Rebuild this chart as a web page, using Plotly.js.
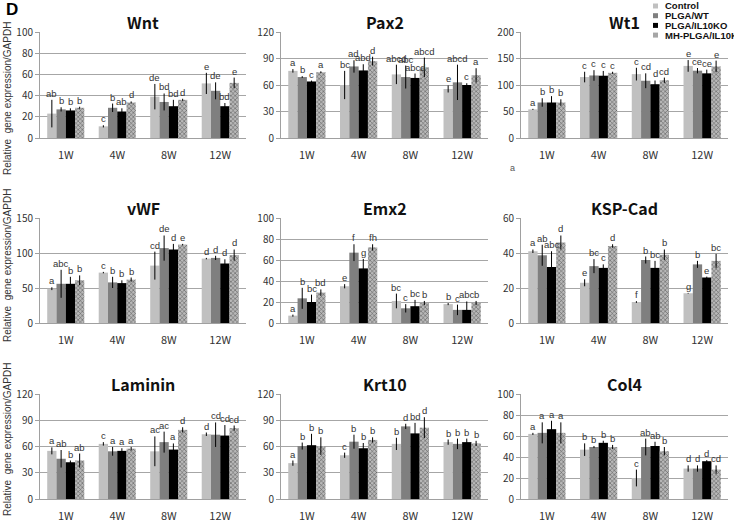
<!DOCTYPE html>
<html><head><meta charset="utf-8">
<script src="https://cdn.plot.ly/plotly-3.0.1.min.js"></script>
<style>html,body{margin:0;padding:0;background:#fff}#chart{width:734px;height:524px}</style>
</head><body><div id="chart"></div>
<script>
const groups = ['Control','PLGA/WT','PLGA/IL10KO','MH-PLGA/IL10KO'];
const weeks = ['1W','4W','8W','12W'];
const genes = ['Wnt','Pax2','Wt1','vWF','Emx2','KSP-Cad','Laminin','Krt10','Col4'];
const yMax = [100,120,200,150,100,60,120,120,100];
const yStep = [20,30,50,50,20,20,30,30,20];

// means [Control, PLGA/WT, PLGA/IL10KO, MH-PLGA/IL10KO] x [1W,4W,8W,12W]
const wntMean = [[23,11,39,51.5],[27,28.5,34,44.5],[26,25,30,30],[28.5,33.5,36,52]];
const wntErr  = [[13,1,12,10],[2,4,8,8],[2,3,6,3],[1,1,1,5]];
const wntSig  = [['ab','c','de','e'],['b','b','bd','de'],['b','ab','bd','bd'],['b','d','d','e']];

const pax2Mean = [[76,60,72,55.5],[69,81,69,63],[64,76.5,68,60],[74.5,87,80,71]];
const pax2Err  = [[2,16,11,4],[1,7,13,20],[1,7,5,2],[1,5,11,8]];
const pax2Sig  = [['a','bc','abcd','e'],['b','ad','abc','abcd'],['c','abd','abcd','c'],['a','d','abcd','a']];

const wt1Mean = [[54,115,120.5,136],[67,118,108,127],[67,117.5,101.5,122],[67,123,109,135]];
const wt1Err  = [[1,10,12,11],[8,10,14,5],[12,9,7,7],[6,2,5,11]];
const wt1Sig  = [['a','c','c','e'],['b','c','cd','ce'],['b','c','d','ce'],['b','c','cd','e']];

const vwfMean = [[49,72,82,92],[56,58,107,93],[56,57,105,85],[61,62,112,97]];
const vwfErr  = [[2,1,20,1],[20,8,18,3],[10,4,8,6],[7,3,1,8]];
const vwfSig  = [['a','c','cd','d'],['abc','b','de','d'],['b','b','d','d'],['b','b','e','d']];

const emx2Mean = [[7,35,21,18],[23.5,67,14,12.5],[20,52,16,12.5],[29,72,19,19]];
const emx2Err  = [[1,2,7,1],[10,8,4,5],[7,9,6,8],[3,3,2,2]];
const emx2Sig  = [['a','e','bc','b'],['b','f','c','c'],['bc','g','bc','abc'],['bd','fh','b','b']];

const kspMean = [[41,23,12,17],[38.7,32.5,36,33.5],[32,31.5,31.5,26],[46,44,39,35.5]];
const kspErr  = [[1,2,0.5,0.2],[6,4,2,2],[9,2,4,0.5],[4,1,3,4]];
const kspSig  = [['a','e','f','g'],['ab','bc','b','b'],['abc','c','bc','e'],['d','d','b','bc']];

const lamMean = [[55,63,54.5,74],[46,54.5,65,73.5],[42,55,56.5,72.5],[44,57.5,79,81]];
const lamErr  = [[4,2,17,2],[10,5,12,14],[2,3,7,12],[8,2,3,3]];
const lamSig  = [['a','c','ac','d'],['ab','a','ac','cd'],['b','a','a','cd'],['ab','a','d','cd']];

const krtMean = [[41,50,63,65],[60.5,65.5,83,63],[61.5,58,75,65],[60.5,67.5,81.5,63.5]];
const krtErr  = [[3,3,7,3],[4,8,3,6],[13,6,12,4],[10,3,12,3]];
const krtSig  = [['a','c','b','b'],['b','b','d','b'],['b','b','bd','b'],['b','b','d','b']];

const col4Mean = [[62,47,20,29],[63,49.5,49.5,29],[66.5,53.5,50.5,36],[63,49.5,45.5,28]];
const col4Err  = [[1,6,8,3],[10,1,8,3],[8,2,4,1],[10,2,4,4]];
const col4Sig  = [['a','b','c','d'],['a','b','ab','d'],['a','b','ab','d'],['a','b','b','cd']];

const allMean = [wntMean,pax2Mean,wt1Mean,vwfMean,emx2Mean,kspMean,lamMean,krtMean,col4Mean];
const allErr  = [wntErr,pax2Err,wt1Err,vwfErr,emx2Err,kspErr,lamErr,krtErr,col4Err];
const allSig  = [wntSig,pax2Sig,wt1Sig,vwfSig,emx2Sig,kspSig,lamSig,krtSig,col4Sig];

const W = 734, H = 524;
const colPx = [[40,246],[281,488],[521,728]];
const rowPx = [[32,138],[218,323],[394,499]];
const colors = ['#c0c0c0','#7f7f7f','#000000','#a6a6a6'];
const FONT = 'Noto Sans CJK KR, Liberation Sans, Arial, sans-serif';
const SANS = 'Liberation Sans, Arial, sans-serif';
const bargap = 0.28;
const bw = (1 - bargap) / 4;

const data = [];
const layout = {
  width: W, height: H, margin: {l:0,r:0,t:0,b:0},
  paper_bgcolor: '#fff', plot_bgcolor: '#fff',
  barmode: 'group', bargap: bargap, bargroupgap: 0,
  showlegend: false,
  font: {family: FONT, size: 10, color: '#333'},
  annotations: [], shapes: []
};

genes.forEach((g, k) => {
  const r = Math.floor(k / 3), c = k % 3;
  const n = k === 0 ? '' : String(k + 1);
  const xa = 'x' + n, ya = 'y' + n;
  layout['xaxis' + n] = {
    domain: [colPx[c][0] / W, colPx[c][1] / W], anchor: ya,
    range: [-0.5, 3.5], tickvals: [0,1,2,3], ticktext: weeks,
    showgrid: false, zeroline: false, showline: true, linecolor: '#a0a0a0', linewidth: 1,
    ticks: '', ticklabelstandoff: 7, tickfont: {size: 11, color: '#333', family: FONT}, fixedrange: true
  };
  layout['yaxis' + n] = {
    domain: [1 - rowPx[r][1] / H, 1 - rowPx[r][0] / H], anchor: xa,
    range: [0, yMax[k]], dtick: yStep[k], tick0: 0,
    showgrid: true, gridcolor: '#a6a6a6', gridwidth: 1, zeroline: false,
    showline: true, linecolor: '#a0a0a0', linewidth: 1,
    ticks: 'outside', ticklen: 4, tickcolor: '#a0a0a0',
    tickfont: {size: 10, color: '#333', family: FONT}, fixedrange: true
  };
  groups.forEach((grp, j) => {
    const tr = {
      type: 'bar', name: grp, x: [0,1,2,3], y: allMean[k][j], xaxis: xa, yaxis: ya,
      marker: {color: colors[j], line: {width: 0}},
      error_y: {type: 'data', array: allErr[k][j], visible: true, width: 0, thickness: 1, color: '#000'}
    };
    if (j === 3) tr.marker.pattern = {shape: 'x', fgcolor: '#4d4d4d', bgcolor: '#b8b8b8', size: 3, solidity: 0.3};
    data.push(tr);
    allMean[k][j].forEach((v, i) => {
      layout.annotations.push({
        xref: xa, yref: ya, x: i + (j - 1.5) * bw, y: v + allErr[k][j][i],
        text: allSig[k][j][i], showarrow: false, yanchor: 'bottom', yshift: -1,
        font: {size: 9.5, color: '#333', family: SANS}
      });
    });
  });
  // panel title
  layout.annotations.push({
    xref: 'paper', yref: 'paper',
    x: (colPx[c][0] + colPx[c][1]) / 2 / W, y: 1 - (rowPx[r][0] - 10) / H,
    text: '<b>' + g + '</b>', showarrow: false, xanchor: 'center', yanchor: 'middle',
    font: {size: 16, color: '#111', family: FONT}
  });
});

// y-axis titles for each row
const yTitleCenter = [99, 266, 440];
yTitleCenter.forEach(cy => {
  layout.annotations.push({
    xref: 'paper', yref: 'paper', x: 7 / W, y: 1 - cy / H,
    text: 'Relative  gene expression/GAPDH', textangle: -90, showarrow: false,
    xanchor: 'center', yanchor: 'middle', font: {size: 10, color: '#333', family: SANS}
  });
});

// panel letter and stray mark
layout.annotations.push({xref:'paper', yref:'paper', x: 4/W, y: 1 - 10/H, text: '<b>D</b>', showarrow: false,
  xanchor: 'left', yanchor: 'middle', font: {size: 17, color: '#000', family: SANS}});
layout.annotations.push({xref:'paper', yref:'paper', x: 512/W, y: 1 - 168/H, text: 'a', showarrow: false,
  xanchor: 'center', yanchor: 'middle', font: {size: 9, color: '#555', family: SANS}});

// manual legend
groups.forEach((grp, j) => {
  const cy = 6 + j * 9.7;
  layout.shapes.push({type: 'rect', xref: 'paper', yref: 'paper',
    x0: 653/W, x1: 658/W, y0: 1 - (cy + 2.5)/H, y1: 1 - (cy - 2.5)/H,
    fillcolor: colors[j], line: {width: 0}});
  layout.annotations.push({xref: 'paper', yref: 'paper', x: 663/W, y: 1 - cy/H,
    text: '<b>' + grp + '</b>', showarrow: false, xanchor: 'left', yanchor: 'middle',
    font: {size: 9.5, color: '#111', family: SANS}});
});

Plotly.newPlot('chart', data, layout, {staticPlot: true});
</script></body></html>
